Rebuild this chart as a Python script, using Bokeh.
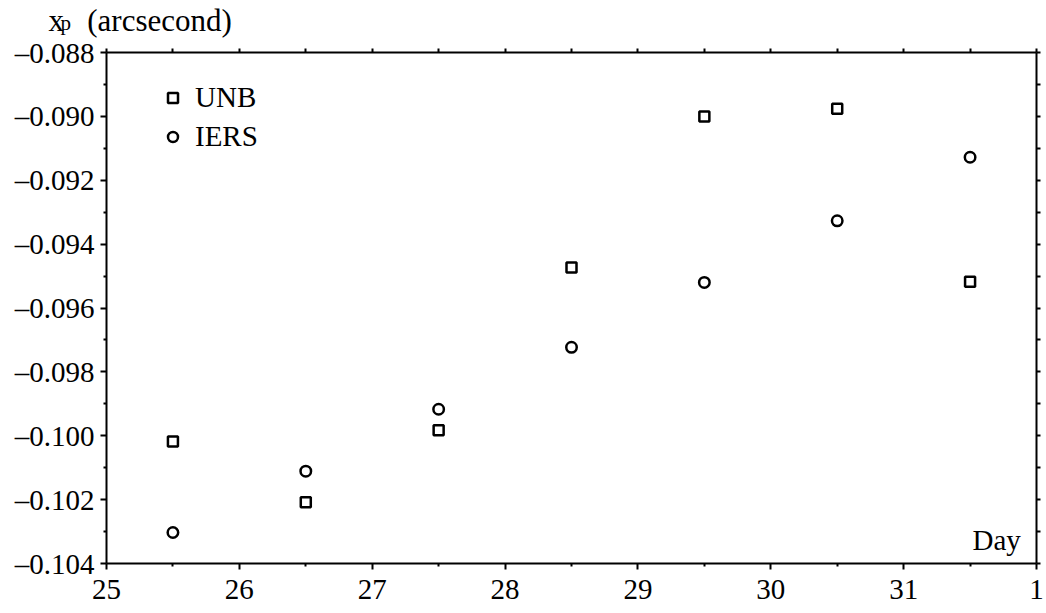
from bokeh.plotting import figure
from bokeh.models import (FixedTicker, LinearAxis, Legend, LegendItem, Label, Range1d)
from bokeh.embed import file_html
from bokeh.resources import INLINE

days = [25.5, 26.5, 27.5, 28.5, 29.5, 30.5, 31.5]
unb = [-0.10018, -0.10208, -0.09983, -0.09473, -0.09000, -0.08976, -0.09518]
iers = [-0.10303, -0.10111, -0.09917, -0.09723, -0.09520, -0.09327, -0.09128]

x_ticks = [25, 26, 27, 28, 29, 30, 31, 32]
x_tick_labels = ["25", "26", "27", "28", "29", "30", "31", "1"]
x_minor = [25.5, 26.5, 27.5, 28.5, 29.5, 30.5, 31.5]
y_ticks = [-0.104, -0.102, -0.100, -0.098, -0.096, -0.094, -0.092, -0.090, -0.088]
y_tick_labels = ["\u20130.104", "\u20130.102", "\u20130.100", "\u20130.098", "\u20130.096",
                 "\u20130.094", "\u20130.092", "\u20130.090", "\u20130.088"]
y_minor = [-0.103, -0.101, -0.099, -0.097, -0.095, -0.093, -0.091, -0.089]

FONT = "Liberation Serif"
FS = "29px"

p = figure(width=1046, height=613, x_range=Range1d(25, 32), y_range=Range1d(-0.104, -0.088),
           output_backend="svg", toolbar_location=None,
           min_border_left=106, min_border_right=10, min_border_top=52, min_border_bottom=50,
           x_axis_location=None, y_axis_location=None)
p.grid.visible = False
p.outline_line_color = None
p.background_fill_color = "white"
p.border_fill_color = "white"

def style(ax):
    ax.axis_line_width = 2
    ax.axis_line_color = "black"
    ax.major_tick_line_width = 2
    ax.minor_tick_line_width = 2
    ax.major_tick_in = 0
    ax.major_tick_out = 6
    ax.minor_tick_in = 0
    ax.minor_tick_out = 3
    ax.major_label_text_font = FONT
    ax.major_label_text_color = "black"
    ax.major_label_text_font_size = FS

bottom = LinearAxis(ticker=FixedTicker(ticks=x_ticks, minor_ticks=x_minor),
                    major_label_overrides=dict(zip(x_ticks, x_tick_labels)))
style(bottom)
bottom.major_label_standoff = 10
left = LinearAxis(ticker=FixedTicker(ticks=y_ticks, minor_ticks=y_minor),
                  major_label_overrides=dict(zip(y_ticks, y_tick_labels)))
style(left)
left.major_label_standoff = 6

# top / right frame axes: ticks only (no labels)
top = LinearAxis(ticker=FixedTicker(ticks=[], minor_ticks=x_ticks + x_minor))
style(top)
top.minor_tick_out = 4
right = LinearAxis(ticker=FixedTicker(ticks=[], minor_ticks=y_ticks + y_minor))
style(right)
right.minor_tick_out = 4
p.add_layout(bottom, "below")
p.add_layout(left, "left")
p.add_layout(top, "above")
p.add_layout(right, "right")

r1 = p.scatter(days, unb, marker="square", size=10, fill_color=None,
               line_color="black", line_width=2.5)
r2 = p.scatter(days, iers, marker="circle", size=10.5, fill_color=None,
               line_color="black", line_width=2.5)

legend = Legend(items=[LegendItem(label="UNB", renderers=[r1]),
                       LegendItem(label="IERS", renderers=[r2])],
                location=(54, 410), padding=0, margin=0, spacing=6,
                glyph_width=25, glyph_height=25, label_height=30, label_standoff=10,
                border_line_color=None, background_fill_alpha=0,
                label_text_font=FONT, label_text_font_size=FS, label_text_color="black")
p.add_layout(legend, "center")

# y-axis title "x_p (arcsecond)" above the frame
p.add_layout(Label(x=-58, y=28, x_units="screen", y_units="screen",
                   text="x\u00a0\u00a0\u00a0(arcsecond)",
                   text_font=FONT, text_font_size="31px", text_color="black",
                   text_baseline="alphabetic"), "above")
p.add_layout(Label(x=60, y=541, x_units="screen", y_units="screen", text="p",
                   text_font=FONT, text_font_size="21px", text_color="black",
                   text_baseline="alphabetic"), "left")
p.add_layout(Label(x=866, y=24, x_units="screen", y_units="screen", text="Day",
                   text_font=FONT, text_font_size=FS, text_color="black",
                   text_baseline="alphabetic"))

open("out.html", "w").write(file_html(p, INLINE))
